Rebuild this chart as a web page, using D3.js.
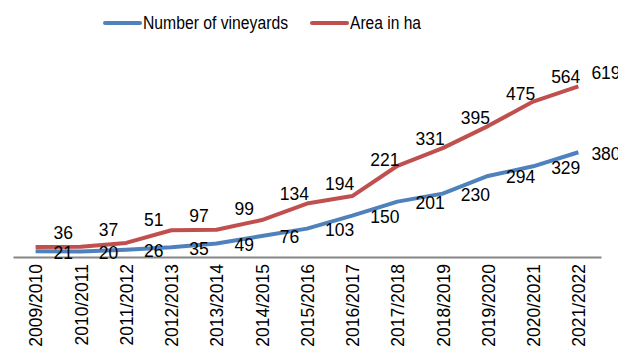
<!DOCTYPE html>
<html>
<head>
<meta charset="utf-8">
<script src="https://cdn.jsdelivr.net/npm/d3@7"></script>
<style>
  body { margin: 0; background: #fff; }
  text { font-family: "Liberation Sans", Arial, sans-serif; fill: #000; }
</style>
</head>
<body>
<svg id="chart" width="618" height="350"></svg>
<script>
const seasons = ['2009/2010', '2010/2011', '2011/2012', '2012/2013', '2013/2014', '2014/2015',
  '2015/2016', '2016/2017', '2017/2018', '2018/2019', '2019/2020', '2020/2021', '2021/2022'];
const vineyards = [21, 20, 26, 35, 49, 76, 103, 150, 201, 230, 294, 329, 380];
const areaHa = [36, 37, 51, 97, 99, 134, 194, 221, 331, 395, 475, 564, 619];
const seriesNames = ['Number of vineyards', 'Area in ha'];
const seriesColors = ['#4f81bd', '#c0504d'];

const svg = d3.select('#chart');
const axisY = 257;

const xScale = d3.scalePoint()
  .domain(seasons)
  .range([13, 601])
  .padding(0.5);

const yScale = d3.scaleLinear()
  .domain([0, 700])
  .range([axisY, axisY - 700 * 0.2756]);

// x axis
const xAxis = d3.axisBottom(xScale)
  .tickSize(0)
  .tickSizeOuter(0);

const xAxisG = svg.append('g')
  .attr('transform', `translate(0, ${axisY})`)
  .call(xAxis);
xAxisG.select('.domain')
  .attr('stroke', '#868686')
  .attr('stroke-width', 2);
xAxisG.selectAll('.tick text')
  .attr('transform', 'rotate(-90)')
  .attr('x', -7)
  .attr('y', 0)
  .attr('dy', '0.36em')
  .style('text-anchor', 'end')
  .style('font-size', '17.5px')
  .style('font-family', '"Liberation Sans", Arial, sans-serif')
  .attr('fill', '#000');

const line = d3.line()
  .x((d, i) => xScale(seasons[i]))
  .y(d => yScale(d));

const series = [vineyards, areaHa];

series.forEach((values, k) => {
  svg.append('path')
    .datum(values)
    .attr('fill', 'none')
    .attr('stroke', seriesColors[k])
    .attr('stroke-width', 4)
    .attr('stroke-linejoin', 'round')
    .attr('d', line);
});

// y of a series at a given x (used to keep red labels above the line)
const lineYAt = (values, x) => {
  const xs = seasons.map(s => xScale(s));
  if (x >= xs[xs.length - 1]) return yScale(values[values.length - 1]);
  const i = d3.bisectRight(xs, x) - 1;
  const t = (x - xs[i]) / (xs[i + 1] - xs[i]);
  return yScale(values[i]) + t * (yScale(values[i + 1]) - yScale(values[i]));
};

const labelX = i => xScale(seasons[i]) + (i === seasons.length - 1 ? 13 : 18);

// blue labels: right of point, centred on it
svg.append('g').selectAll('text')
  .data(vineyards)
  .enter().append('text')
    .attr('x', (d, i) => labelX(i))
    .attr('y', d => yScale(d) + 1)
    .attr('dy', '0.36em')
    .style('font-size', '17.5px')
    .text(d => d);

// red labels: right of point, above the line
svg.append('g').selectAll('text')
  .data(areaHa)
  .enter().append('text')
    .attr('x', (d, i) => labelX(i))
    .attr('y', (d, i) => lineYAt(areaHa, xScale(seasons[i]) + 33) - 14)
    .attr('dy', '0.36em')
    .style('font-size', '17.5px')
    .text(d => d);

// legend
const legendX = [105, 312];
const legendW = [145, 71];
const legendG = svg.append('g');
seriesNames.forEach((name, k) => {
  legendG.append('line')
    .attr('x1', legendX[k]).attr('x2', legendX[k] + 35)
    .attr('y1', 23).attr('y2', 23)
    .attr('stroke', seriesColors[k])
    .attr('stroke-width', 4)
    .attr('stroke-linecap', 'round');
  legendG.append('text')
    .attr('x', legendX[k] + 38)
    .attr('y', 23)
    .attr('dy', '0.36em')
    .attr('textLength', legendW[k])
    .attr('lengthAdjust', 'spacingAndGlyphs')
    .style('font-size', '17.5px')
    .text(name);
});
</script>
</body>
</html>
